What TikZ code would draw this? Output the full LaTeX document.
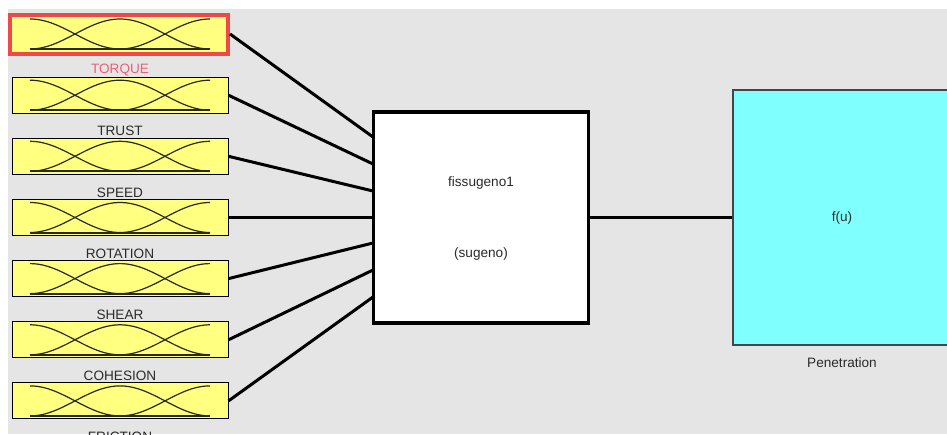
\documentclass[tikz,border=0pt]{standalone}
\usepackage{fontspec}
\setmainfont{Liberation Sans}
\definecolor{bggray}{HTML}{E5E5E5}
\definecolor{mfyellow}{HTML}{FFFF80}
\definecolor{mfcyan}{HTML}{80FFFF}
\definecolor{hlred}{HTML}{EE4848}
\definecolor{lblred}{HTML}{E8607A}
\definecolor{txtgray}{HTML}{2A2A2A}
\definecolor{curvegray}{HTML}{2A2A1A}
\tikzset{
  mfbox/.style={draw=black, line width=1pt, fill=mfyellow, minimum width=216pt, minimum height=36pt, inner sep=0pt},
  selbox/.style={draw=hlred, line width=4pt, fill=mfyellow, minimum width=218pt, minimum height=39pt, inner sep=0pt},
  lbl/.style={text=txtgray, font=\fontsize{13.6}{15}\selectfont, inner sep=0pt},
  wire/.style={draw=black, line width=3pt},
  mfcurve/.style={draw=curvegray, line width=1.2pt},
  mfbase/.style={draw=curvegray, line width=2pt}
}
\begin{document}
\begin{tikzpicture}[x=1pt,y=-1pt]
\useasboundingbox (0,0) rectangle (947,434);
\clip (0,0) rectangle (947,434);
\fill[white] (0,0) rectangle (947,434);
\fill[bggray] (8,9) rectangle (947,434);

% fuzzy system box
\node[draw=black, line width=3.5pt, fill=white, minimum width=215pt, minimum height=211pt, inner sep=0pt] (fis) at (481,217.5) {};
\node[lbl] (fisname) at (481,183) {fissugeno1};
\node[lbl] (fistype) at (481,254) {(sugeno)};

% output box
\node[draw=black!80!cyan, line width=1.2pt, fill=mfcyan, minimum width=218pt, minimum height=255pt, inner sep=0pt] (outb) at (842,217.5) {};
\node[lbl] (fu) at (842,218) {f(u)};
\node[lbl] (outl) at (842,363) {Penetration};

% input boxes
\node[selbox] (b1) at (119,34) {};
\node[mfbox] (b2) at (120,95.2) {};
\node[mfbox] (b3) at (120,156.3) {};
\node[mfbox] (b4) at (120,217.5) {};
\node[mfbox] (b5) at (120,278.6) {};
\node[mfbox] (b6) at (120,339.8) {};
\node[mfbox] (b7) at (120,400.9) {};

\node[lbl, text=lblred] (l1) at (120,70.5) {TORQUE};
\node[lbl] (l2) at (120,131) {TRUST};
\node[lbl] (l3) at (120,192.5) {SPEED};
\node[lbl] (l4) at (120,253.5) {ROTATION};
\node[lbl] (l5) at (120,315) {SHEAR};
\node[lbl] (l6) at (120,376) {COHESION};
\node[lbl] (l7) at (120,437) {FRICTION};

% membership curves
\foreach \t in {16,77.2,138.3,199.5,260.6,321.8,382.9}{
  \pgfmathsetmacro{\bt}{\t+33}
  \draw[mfbase] (30,\bt) -- (210,\bt);
  \draw[mfcurve] plot[domain=0:90, samples=40, smooth] ({30+\x},{\bt-30*(1+cos(2*\x))/2});
  \draw[mfcurve] plot[domain=-90:90, samples=60, smooth] ({120+\x},{\bt-30*(1+cos(2*\x))/2});
  \draw[mfcurve] plot[domain=-90:0, samples=40, smooth] ({210+\x},{\bt-30*(1+cos(2*\x))/2});
}

% input connection points on the fis box
\coordinate (p1) at (373,137);
\coordinate (p2) at (373,164);
\coordinate (p3) at (373,191);
\coordinate (p4) at (373,217.5);
\coordinate (p5) at (373,243);
\coordinate (p6) at (373,270);
\coordinate (p7) at (373,297);

\draw[wire] (b1.east) -- (p1);
\draw[wire] (b2.east) -- (p2);
\draw[wire] (b3.east) -- (p3);
\draw[wire] (b4.east) -- (p4);
\draw[wire] (b5.east) -- (p5);
\draw[wire] (b6.east) -- (p6);
\draw[wire] (b7.east) -- (p7);

\draw[wire] (fis.east) -- (outb.west);
\end{tikzpicture}
\end{document}
